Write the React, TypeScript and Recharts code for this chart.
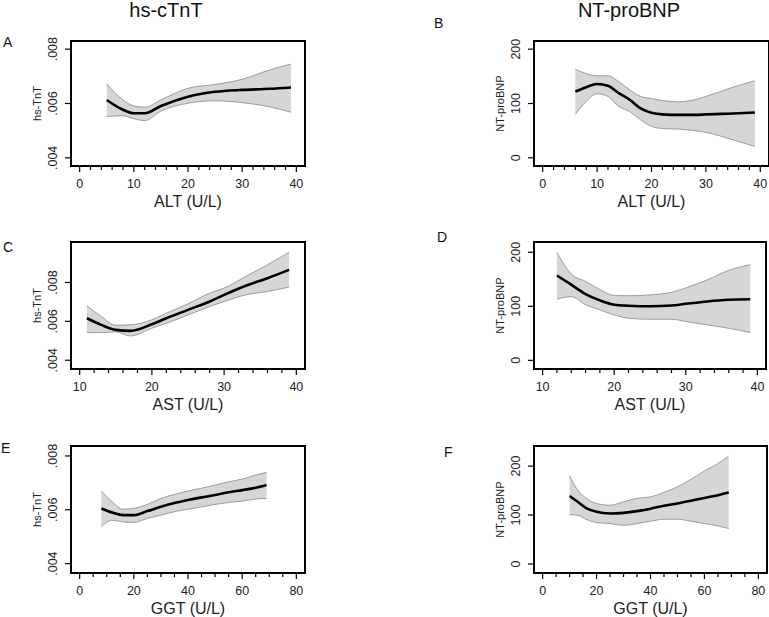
import React from 'react';
import { ComposedChart, XAxis, YAxis, Area, Line } from 'recharts';

// ---- Data ----
// Panel A: hs-TnT vs ALT
const aX = [5, 8, 10, 12, 15, 20, 25, 30, 35, 39];
const aFit = [0.00613, 0.00577, 0.00564, 0.00564, 0.00591, 0.00625, 0.00643, 0.0065, 0.00654, 0.00659];
const aHi = [0.00672, 0.00613, 0.00591, 0.00586, 0.00613, 0.00656, 0.0067, 0.00689, 0.00723, 0.00745];
const aLo = [0.00552, 0.00555, 0.00544, 0.00537, 0.00572, 0.00601, 0.0061, 0.00603, 0.00588, 0.00568];

// Panel B: NT-proBNP vs ALT
const bX = [6, 8, 10, 12, 14, 16, 18, 20, 22, 25, 28, 30, 35, 39];
const bFit = [122, 130, 136, 132.5, 119, 107, 91, 83, 80, 79, 79, 80, 81.6, 83.4];
const bHi = [163, 155, 151, 151, 140, 125, 113, 109, 105.5, 103, 107, 113, 130, 142];
const bLo = [80, 104, 118, 113, 94.5, 85, 70, 58, 54, 53, 50, 47, 33, 21];

// Panel C: hs-TnT vs AST
const cX = [11, 13, 15, 17, 20, 22, 25, 28, 30, 33, 36, 39];
const cFit = [0.00616, 0.00582, 0.00556, 0.00551, 0.00585, 0.00616, 0.00659, 0.00702, 0.00736, 0.00783, 0.00822, 0.00865];
const cHi = [0.0068, 0.00625, 0.0058, 0.00582, 0.00608, 0.00642, 0.0069, 0.00745, 0.00771, 0.00831, 0.00891, 0.00955];
const cLo = [0.00542, 0.00542, 0.00546, 0.00525, 0.00565, 0.0059, 0.00633, 0.00676, 0.00702, 0.00736, 0.00754, 0.00776];

// Panel D: NT-proBNP vs AST
const dX = [12, 14, 16, 18, 20, 22, 25, 28, 30, 33, 36, 39];
const dFit = [157, 140, 122.6, 111, 103, 101, 100, 101.5, 104.6, 109, 112, 113];
const dHi = [200, 160, 146, 131, 120, 119.5, 121, 126, 134, 149, 166.6, 177];
const dLo = [113, 118, 103, 93.5, 84, 78, 76, 76, 72, 65.6, 59.4, 51.4];

// Panel E: hs-TnT vs GGT
const eX = [8, 12, 16, 20, 25, 30, 35, 40, 45, 50, 55, 60, 65, 69];
const eFit = [0.00605, 0.0059, 0.0058, 0.0058, 0.00595, 0.00611, 0.00625, 0.00636, 0.00646, 0.00655, 0.00665, 0.00673, 0.00682, 0.00692];
const eHi = [0.0067, 0.0063, 0.00602, 0.00605, 0.0062, 0.00642, 0.00657, 0.0067, 0.0068, 0.00692, 0.00704, 0.00714, 0.00729, 0.00739];
const eLo = [0.00537, 0.00561, 0.00555, 0.00553, 0.00568, 0.0058, 0.00593, 0.00602, 0.00611, 0.0062, 0.00627, 0.00632, 0.0064, 0.00642];

// Panel F: NT-proBNP vs GGT
const fX = [10, 13, 16, 20, 25, 30, 35, 40, 45, 50, 55, 60, 65, 69];
const fFit = [139, 127, 114.7, 106.5, 103, 104.4, 108, 113, 119, 123.5, 129, 135, 140.6, 146];
const fHi = [180, 151, 135, 123.5, 120, 127, 134, 137, 146, 157.7, 173, 190, 205, 220.5];
const fLo = [101, 99.7, 91.5, 84.6, 82.6, 79, 82.6, 87.4, 91.5, 91.5, 87.4, 82.6, 77.8, 72.4];

// Tick labels
const altTicks = [0, 10, 20, 30, 40];
const altMinor = [2, 4, 6, 8, 12, 14, 16, 18, 22, 24, 26, 28, 32, 34, 36, 38];
const astTicks = [10, 20, 30, 40];
const astMinor = [12, 14, 16, 18, 22, 24, 26, 28, 32, 34, 36, 38];
const ggtTicks = [0, 20, 40, 60, 80];
const ggtMinor = [5, 10, 15, 25, 30, 35, 45, 50, 55, 65, 70, 75];
const tntTicks = [0.004, 0.006, 0.008];
const bnpTicks = [0, 100, 200];

const columnTitles = ['hs-cTnT', 'NT-proBNP'];
const panelLetters = ['A', 'B', 'C', 'D', 'E', 'F'];

const FONT = 'Arial, "Liberation Sans", Helvetica, sans-serif';

const fmtTnT = (v: number) => v.toFixed(3).replace(/^0/, '');
const fmtBnp = (v: number) => String(v);

type PanelProps = {
  left: number; top: number; width: number; height: number;
  xDomain: [number, number]; yDomain: [number, number];
  xTicks: number[]; xMinor: number[]; yTicks: number[];
  yFmt: (v: number) => string;
  xs: number[]; fit: number[]; lo: number[]; hi: number[];
  xTitle: string; yTitle: string;
};

const LPAD = 45;
const TPAD = 5;

function Panel(p: PanelProps) {
  const rows = p.xs.map((x, i) => ({ x, fit: p.fit[i], band: [p.lo[i], p.hi[i]] }));
  const allX = [...p.xTicks, ...p.xMinor].sort((a, b) => a - b);
  const XTick = (t: any) => {
    const v = t.payload.value;
    const major = p.xTicks.includes(v);
    return (
      <g>
        <path d={`M${t.x},${t.y}V${t.y + (major ? 6 : 4)}`} stroke="#000" strokeWidth={1.2} fill="none" />
        {major && (
          <text x={t.x} y={t.y + 22} textAnchor="middle" fontSize={12.5} fontFamily={FONT} fill="#222">
            {String(v)}
          </text>
        )}
      </g>
    );
  };
  const YTick = (t: any) => {
    const v = t.payload.value;
    const bx = t.x - 14;
    return (
      <g>
        <path d={`M${t.x - 6},${t.y}H${t.x}`} stroke="#000" strokeWidth={1.2} fill="none" />
        <text x={bx} y={t.y} textAnchor="middle" fontSize={12.5} fontFamily={FONT} fill="#222"
          transform={`rotate(-90 ${bx} ${t.y})`}>
          {p.yFmt(v)}
        </text>
      </g>
    );
  };
  const W = p.width + LPAD + 5;
  const H = p.height + TPAD + 45;
  return (
    <div style={{ position: 'absolute', left: p.left - LPAD, top: p.top - TPAD, width: W, height: H }}>
      <ComposedChart width={W} height={H} data={rows}
        margin={{ top: TPAD, right: 5, left: 0, bottom: 0 }}>
        <XAxis dataKey="x" type="number" domain={p.xDomain} ticks={allX} interval={0}
          allowDataOverflow axisLine={false} tickLine={false} tickSize={0} tickMargin={0}
          height={45} tick={XTick} />
        <YAxis type="number" domain={p.yDomain} ticks={p.yTicks} interval={0}
          allowDataOverflow axisLine={false} tickLine={false} tickSize={0} tickMargin={0}
          width={LPAD} tick={YTick} />
        <Area dataKey="band" type="monotone" stroke="#9c9c9c" strokeWidth={1}
          fill="#d6d6d6" fillOpacity={1} isAnimationActive={false} dot={false} activeDot={false} />
        <Line dataKey="fit" type="monotone" stroke="#000" strokeWidth={2.6} dot={false}
          activeDot={false} isAnimationActive={false} />
      </ComposedChart>
      <div style={{
        position: 'absolute', left: LPAD - 1, top: TPAD - 1, width: p.width + 2, height: p.height + 2,
        boxSizing: 'border-box', border: '2px solid #000', pointerEvents: 'none',
      }} />
    </div>
  );
}

type Box = { left: number; top: number; width: number; height: number };

const boxes: Box[] = [
  { left: 71, top: 41, width: 234, height: 125 },
  { left: 534, top: 41, width: 235, height: 125 },
  { left: 71, top: 242, width: 234, height: 127 },
  { left: 534, top: 242, width: 232, height: 127 },
  { left: 71, top: 446, width: 234, height: 127 },
  { left: 534, top: 446, width: 233, height: 127 },
];

const letterPos = [
  { x: 3, y: 47 },
  { x: 434, y: 28 },
  { x: 3, y: 252 },
  { x: 437, y: 242 },
  { x: 1, y: 453 },
  { x: 444, y: 457 },
];

export default function App() {
  const panels: PanelProps[] = [
    { ...boxes[0], xDomain: [-1.6, 41.6], yDomain: [0.0037, 0.0083], xTicks: altTicks, xMinor: altMinor,
      yTicks: tntTicks, yFmt: fmtTnT, xs: aX, fit: aFit, lo: aLo, hi: aHi, xTitle: 'ALT (U/L)', yTitle: 'hs-TnT' },
    { ...boxes[1], xDomain: [-1.6, 41.6], yDomain: [-15, 215], xTicks: altTicks, xMinor: altMinor,
      yTicks: bnpTicks, yFmt: fmtBnp, xs: bX, fit: bFit, lo: bLo, hi: bHi, xTitle: 'ALT (U/L)', yTitle: 'NT-proBNP' },
    { ...boxes[2], xDomain: [8.8, 41.2], yDomain: [0.00355, 0.01008], xTicks: astTicks, xMinor: astMinor,
      yTicks: tntTicks, yFmt: fmtTnT, xs: cX, fit: cFit, lo: cLo, hi: cHi, xTitle: 'AST (U/L)', yTitle: 'hs-TnT' },
    { ...boxes[3], xDomain: [8.8, 41.2], yDomain: [-16, 219], xTicks: astTicks, xMinor: astMinor,
      yTicks: bnpTicks, yFmt: fmtBnp, xs: dX, fit: dFit, lo: dLo, hi: dHi, xTitle: 'AST (U/L)', yTitle: 'NT-proBNP' },
    { ...boxes[4], xDomain: [-3.2, 83.2], yDomain: [0.00365, 0.00837], xTicks: ggtTicks, xMinor: ggtMinor,
      yTicks: tntTicks, yFmt: fmtTnT, xs: eX, fit: eFit, lo: eLo, hi: eHi, xTitle: 'GGT (U/L)', yTitle: 'hs-TnT' },
    { ...boxes[5], xDomain: [-3.2, 83.2], yDomain: [-18.4, 241], xTicks: ggtTicks, xMinor: ggtMinor,
      yTicks: bnpTicks, yFmt: fmtBnp, xs: fX, fit: fFit, lo: fLo, hi: fHi, xTitle: 'GGT (U/L)', yTitle: 'NT-proBNP' },
  ];
  return (
    <div style={{ position: 'absolute', left: 0, top: 0, width: 769, height: 617, overflow: 'hidden', background: '#fff' }}>
      {panels.map((p, i) => <Panel key={i} {...p} />)}
      <svg width={769} height={617} style={{ position: 'absolute', left: 0, top: 0, pointerEvents: 'none' }}>
        <text x={166} y={17} textAnchor="middle" fontSize={20} fontFamily={FONT} fill="#111">{columnTitles[0]}</text>
        <text x={629} y={17} textAnchor="middle" fontSize={20} fontFamily={FONT} fill="#111">{columnTitles[1]}</text>
        {panelLetters.map((l, i) => (
          <text key={l} x={letterPos[i].x} y={letterPos[i].y} fontSize={14} fontFamily={FONT} fill="#111">{l}</text>
        ))}
        {panels.map((p, i) => {
          const cx = p.left + p.width / 2;
          const cy = p.top + p.height / 2;
          const yx = p.left - 30;
          return (
            <g key={'t' + i}>
              <text x={cx} y={p.top + p.height + 40.5} textAnchor="middle" fontSize={16} fontFamily={FONT} fill="#222">{p.xTitle}</text>
              <text x={yx} y={cy} textAnchor="middle" fontSize={11} fontFamily={FONT} fill="#222"
                transform={`rotate(-90 ${yx} ${cy})`}>{p.yTitle}</text>
            </g>
          );
        })}
      </svg>
    </div>
  );
}
